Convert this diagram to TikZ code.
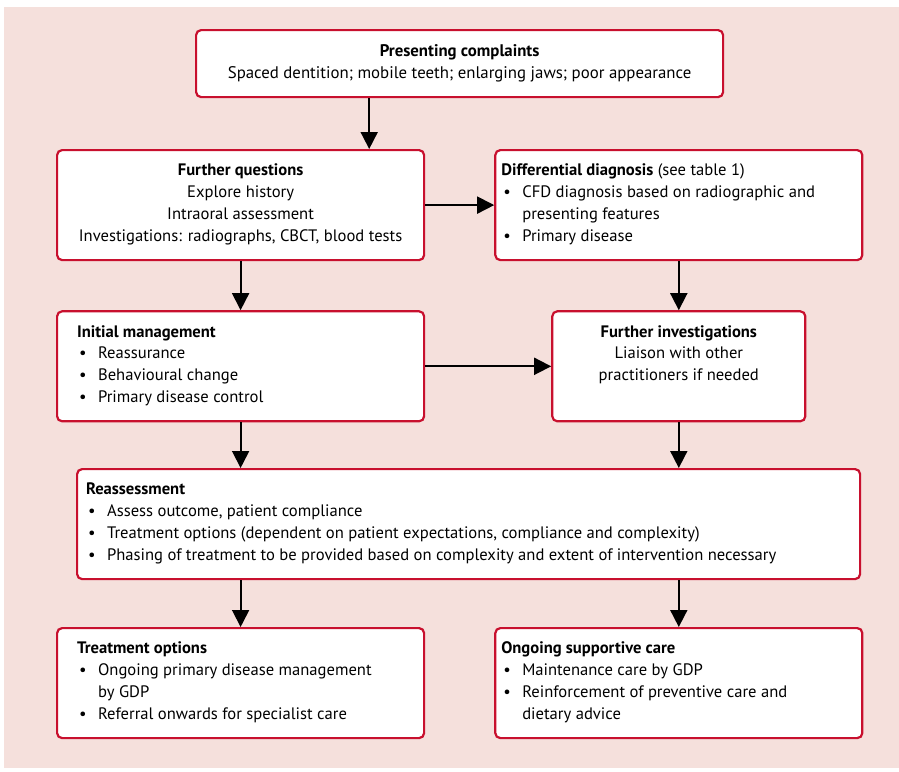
\documentclass[tikz,border=0pt]{standalone}
\usepackage{fontspec}
\setmainfont{PT Sans}
\usepackage{xcolor}
\usepackage{tikz}
\usetikzlibrary{positioning}
\usetikzlibrary{arrows.meta}
\tikzset{>={Triangle[width=17pt,length=17pt]}}

\definecolor{boxred}{RGB}{200,16,46}
\definecolor{panelpink}{RGB}{245,224,220}

\newcommand{\bul}{\par\hangindent=21pt\hangafter=1\noindent\makebox[21pt][l]{\hspace{2pt}\textbullet}}
\newcommand{\boxtext}[2]{\begin{minipage}[t][82pt][t]{#1}\fontsize{16.6}{21.8}\selectfont\setlength{\parindent}{0pt}#2\end{minipage}}

\begin{document}
\begin{tikzpicture}[stage/.style={draw=boxred, line width=2.2pt, rounded corners=5pt, fill=white, inner ysep=14pt, anchor=north west}, topstage/.style={draw=boxred, line width=2.2pt, rounded corners=5pt, fill=white, inner sep=0pt, minimum width=527pt, minimum height=67pt, align=center, anchor=north west, font=\fontsize{16.8}{21.8}\selectfont}, flow/.style={->, line width=1.8pt}]

    \useasboundingbox (0,0) rectangle (899pt,-771pt);
    \fill[panelpink] (4pt,-7pt) rectangle (899pt,-768pt);

    %Nodes
    \node[topstage](complaints) at (195pt,-29pt){\textbf{Presenting complaints}\\Spaced dentition; mobile teeth; enlarging jaws; poor appearance};
    \node[stage, inner xsep=8pt](questions) at (56pt,-149pt){\boxtext{351pt}{\centering\textbf{Further questions}\\Explore history\\Intraoral assessment\\Investigations: radiographs, CBCT, blood tests}};
    \node[stage, inner xsep=6pt](diagnosis)[right=69pt of questions]{\boxtext{355pt}{\textbf{Differential diagnosis} (see table 1)\bul CFD diagnosis based on radiographic and\\presenting features\bul Primary disease}};
    \node[stage, inner xsep=20pt](initial)[below=49pt of questions]{\boxtext{327pt}{\textbf{Initial management}\bul Reassurance\bul Behavioural change\bul Primary disease control}};
    \node[stage, inner xsep=8pt](investigations)[right=126pt of initial]{\boxtext{237pt}{\centering\textbf{Further investigations}\\Liaison with other\\practitioners if needed}};
    \node[stage, inner xsep=9pt](reassess) at (76pt,-468pt){\boxtext{765pt}{\textbf{Reassessment}\bul Assess outcome, patient compliance\bul Treatment options (dependent on patient expectations, compliance and complexity)\bul Phasing of treatment to be provided based on complexity and extent of intervention necessary}};
    \node[stage, inner xsep=20pt](options) at (56pt,-627pt){\boxtext{327pt}{\textbf{Treatment options}\bul Ongoing primary disease management\\by GDP\bul Referral onwards for specialist care}};
    \node[stage, inner xsep=6pt](supportive)[right=69pt of options]{\boxtext{355pt}{\textbf{Ongoing supportive care}\bul Maintenance care by GDP\bul Reinforcement of preventive care and\\dietary advice}};

    %Lines
    \draw[flow] ([xshift=-56pt]questions.north east |- complaints.south) -- ([xshift=-56pt]questions.north east);
    \draw[flow] (questions.east) -- (diagnosis.west);
    \draw[flow] (questions.south) -- (initial.north);
    \draw[flow] (diagnosis.south) -- (investigations.north);
    \draw[flow] (initial.east) -- (investigations.west);
    \draw[flow] (initial.south) -- (initial.south |- reassess.north);
    \draw[flow] (investigations.south) -- (investigations.south |- reassess.north);
    \draw[flow] (options.north |- reassess.south) -- (options.north);
    \draw[flow] (supportive.north |- reassess.south) -- (supportive.north);

\end{tikzpicture}
\end{document}
